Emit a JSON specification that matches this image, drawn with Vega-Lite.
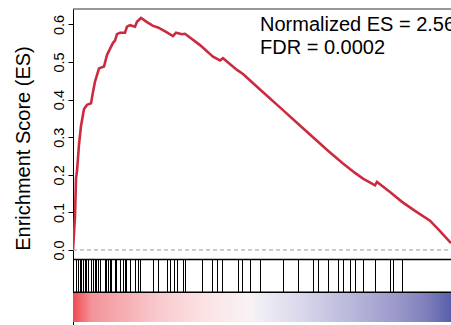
{
  "$schema": "https://vega.github.io/schema/vega-lite/v6.json",
  "width": 378,
  "height": 316,
  "autosize": {"type": "none"},
  "padding": {"left": 73, "top": 9, "right": 0, "bottom": 0},
  "config": {"view": {"stroke": null}, "font": "Liberation Sans"},
  "datasets": {
    "es": [
      {"rank": 0, "es": 0}, {"rank": 2, "es": 0.09}, {"rank": 3, "es": 0.19}, {"rank": 4, "es": 0.21},
      {"rank": 6, "es": 0.28}, {"rank": 8, "es": 0.33}, {"rank": 11, "es": 0.375}, {"rank": 14, "es": 0.386},
      {"rank": 18, "es": 0.39}, {"rank": 20, "es": 0.42}, {"rank": 22, "es": 0.448}, {"rank": 26, "es": 0.483},
      {"rank": 31, "es": 0.488}, {"rank": 34, "es": 0.519}, {"rank": 40, "es": 0.551}, {"rank": 42, "es": 0.557},
      {"rank": 44, "es": 0.574}, {"rank": 47, "es": 0.578}, {"rank": 52, "es": 0.578}, {"rank": 54, "es": 0.594},
      {"rank": 57, "es": 0.598}, {"rank": 62, "es": 0.594}, {"rank": 64, "es": 0.607}, {"rank": 68, "es": 0.617},
      {"rank": 74, "es": 0.606}, {"rank": 80, "es": 0.596}, {"rank": 85, "es": 0.592}, {"rank": 93, "es": 0.58},
      {"rank": 100, "es": 0.569}, {"rank": 103, "es": 0.578}, {"rank": 109, "es": 0.574}, {"rank": 112, "es": 0.575},
      {"rank": 127, "es": 0.545}, {"rank": 140, "es": 0.514}, {"rank": 147, "es": 0.504}, {"rank": 150, "es": 0.51},
      {"rank": 164, "es": 0.479}, {"rank": 170, "es": 0.468}, {"rank": 187, "es": 0.427}, {"rank": 210, "es": 0.372},
      {"rank": 225, "es": 0.336}, {"rank": 240, "es": 0.3}, {"rank": 255, "es": 0.264}, {"rank": 270, "es": 0.23},
      {"rank": 282, "es": 0.205}, {"rank": 290, "es": 0.19}, {"rank": 302, "es": 0.172}, {"rank": 304, "es": 0.181},
      {"rank": 317, "es": 0.154}, {"rank": 329, "es": 0.128}, {"rank": 342, "es": 0.104}, {"rank": 357, "es": 0.078},
      {"rank": 367, "es": 0.05}, {"rank": 378, "es": 0.018}
    ],
    "hits": [
      {"rank": 3}, {"rank": 5}, {"rank": 7}, {"rank": 8}, {"rank": 10}, {"rank": 12}, {"rank": 13}, {"rank": 15},
      {"rank": 18}, {"rank": 20}, {"rank": 22}, {"rank": 23}, {"rank": 25}, {"rank": 27}, {"rank": 32}, {"rank": 33},
      {"rank": 35}, {"rank": 37}, {"rank": 38}, {"rank": 42}, {"rank": 43}, {"rank": 47}, {"rank": 50}, {"rank": 52},
      {"rank": 53}, {"rank": 57}, {"rank": 62}, {"rank": 65}, {"rank": 67}, {"rank": 80}, {"rank": 85}, {"rank": 94},
      {"rank": 97}, {"rank": 101}, {"rank": 104}, {"rank": 110}, {"rank": 112}, {"rank": 129}, {"rank": 139}, {"rank": 144},
      {"rank": 149}, {"rank": 165}, {"rank": 169}, {"rank": 177}, {"rank": 187}, {"rank": 210}, {"rank": 225}, {"rank": 240},
      {"rank": 245}, {"rank": 255}, {"rank": 265}, {"rank": 270}, {"rank": 277}, {"rank": 282}, {"rank": 290}, {"rank": 302},
      {"rank": 317}, {"rank": 320}, {"rank": 329}
    ]
  },
  "layer": [
    {
      "data": {"name": "es"},
      "mark": {"type": "line", "color": "#CC2B3F", "strokeWidth": 2.6, "clip": true},
      "encoding": {
        "x": {"field": "rank", "type": "quantitative", "scale": {"domain": [0, 378], "nice": false, "zero": false}, "axis": null},
        "y": {
          "field": "es", "type": "quantitative",
          "scale": {"domain": [-0.1995, 0.641], "nice": false, "zero": false},
          "axis": {
            "values": [0, 0.1, 0.2, 0.3, 0.4, 0.5, 0.6], "format": ".1f",
            "title": "Enrichment Score (ES)", "grid": false,
            "labelAngle": 270, "labelAlign": "center", "labelBaseline": "alphabetic",
            "labelFontSize": 14.5, "labelColor": "black", "labelPadding": 5, "labelFlush": false,
            "tickSize": 5, "tickColor": "black", "domainColor": "black",
            "titleFontSize": 20, "titleFontWeight": "normal", "titleColor": "black",
            "titleX": -44, "titleY": 139, "titleAngle": 270, "titleBaseline": "alphabetic", "titleAlign": "center"
          }
        }
      }
    },
    {
      "data": {"values": [{}]},
      "mark": {"type": "rect", "fill": {"gradient": "linear", "x1": 0, "y1": 0, "x2": 1, "y2": 0, "stops": [
        {"offset": 0, "color": "#F04B52"},
        {"offset": 0.05, "color": "#F39499"},
        {"offset": 0.22, "color": "#F8C8CC"},
        {"offset": 0.35, "color": "#FBE3E5"},
        {"offset": 0.47, "color": "#F8F2F4"},
        {"offset": 0.5, "color": "#EEECF5"},
        {"offset": 0.6, "color": "#DAD8EC"},
        {"offset": 0.73, "color": "#BBB9DC"},
        {"offset": 0.86, "color": "#9B97CA"},
        {"offset": 0.94, "color": "#7D7DBB"},
        {"offset": 1, "color": "#585FAA"}
      ]}},
      "encoding": {
        "x": {"datum": 0, "type": "quantitative"},
        "x2": {"datum": 378},
        "y": {"datum": -0.113, "type": "quantitative"},
        "y2": {"datum": -0.1915}
      }
    },
    {
      "data": {"name": "hits"},
      "mark": {"type": "rule", "color": "black", "strokeWidth": 1, "xOffset": 0.5},
      "encoding": {
        "x": {"field": "rank", "type": "quantitative"},
        "y": {"datum": -0.0266, "type": "quantitative"},
        "y2": {"datum": -0.1117}
      }
    },
    {
      "data": {"values": [{"v": -0.0253}, {"v": -0.1125}]},
      "mark": {"type": "rule", "color": "black", "strokeWidth": 1.6},
      "encoding": {
        "x": {"datum": 0, "type": "quantitative"},
        "x2": {"datum": 378},
        "y": {"field": "v", "type": "quantitative"}
      }
    },
    {
      "data": {"values": [{}]},
      "mark": {"type": "rule", "color": "#9a9a9a", "strokeWidth": 1, "strokeDash": [4, 3]},
      "encoding": {
        "x": {"datum": 0, "type": "quantitative"},
        "x2": {"datum": 378},
        "y": {"datum": 0, "type": "quantitative"}
      }
    },
    {
      "data": {"values": [{}]},
      "mark": {"type": "rule", "color": "#333333", "strokeWidth": 1.2},
      "encoding": {
        "x": {"datum": 0, "type": "quantitative"},
        "x2": {"datum": 378},
        "y": {"datum": 0.641, "type": "quantitative"}
      }
    },
    {
      "data": {"values": [{}]},
      "mark": {"type": "text", "align": "left", "baseline": "alphabetic", "fontSize": 20, "color": "black", "font": "Liberation Sans"},
      "encoding": {
        "x": {"datum": 187, "type": "quantitative"},
        "y": {"datum": 0.583, "type": "quantitative"},
        "text": {"value": "Normalized ES = 2.56"}
      }
    },
    {
      "data": {"values": [{}]},
      "mark": {"type": "text", "align": "left", "baseline": "alphabetic", "fontSize": 20, "color": "black", "font": "Liberation Sans"},
      "encoding": {
        "x": {"datum": 187, "type": "quantitative"},
        "y": {"datum": 0.52, "type": "quantitative"},
        "text": {"value": "FDR = 0.0002"}
      }
    }
  ]
}
